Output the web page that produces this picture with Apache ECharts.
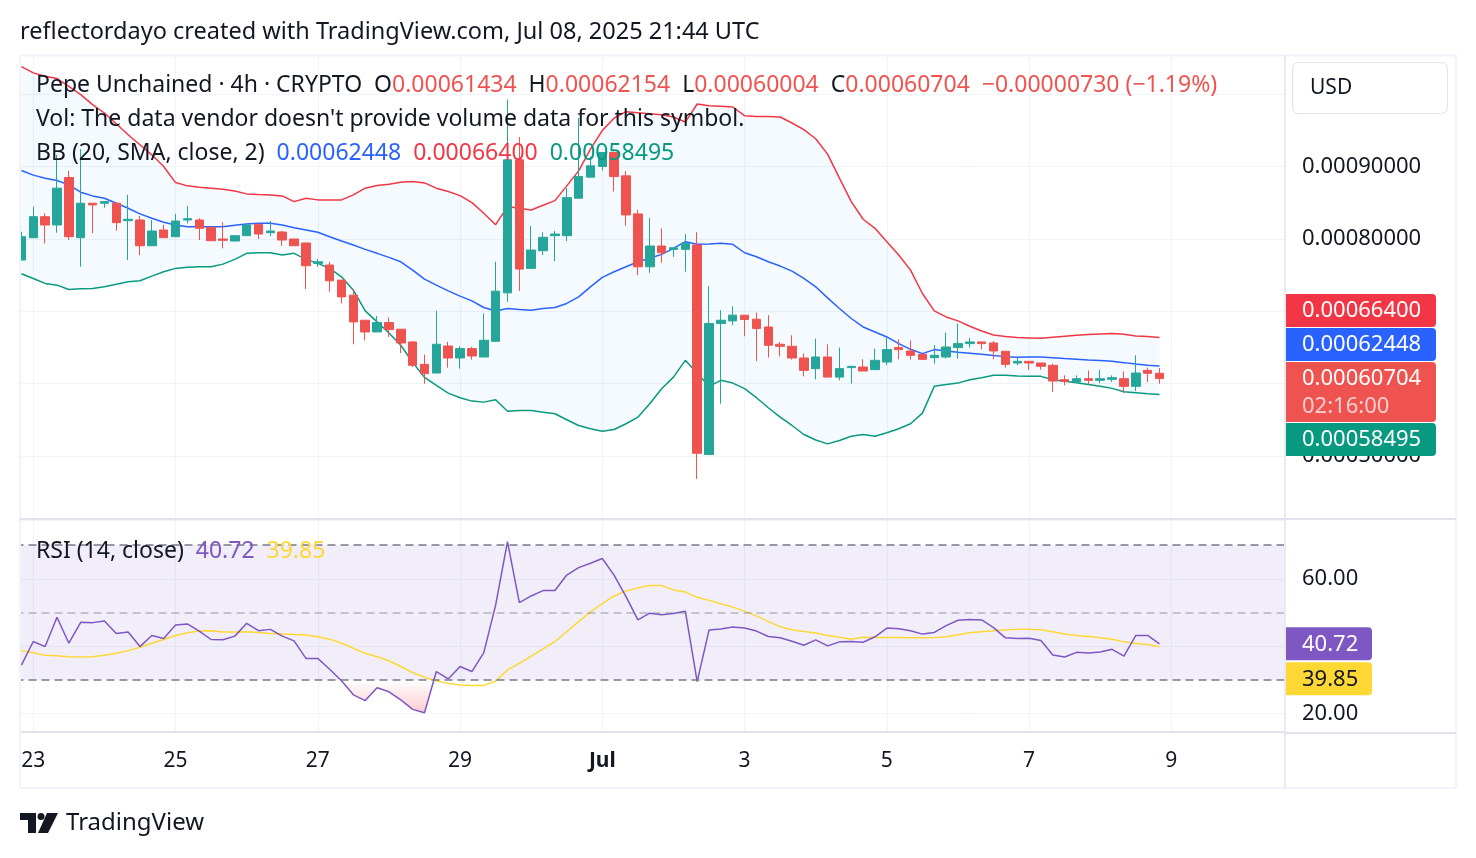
<!DOCTYPE html>
<html>
<head>
<meta charset="utf-8">
<script src="https://cdn.jsdelivr.net/npm/echarts@6/dist/echarts.min.js"></script>
<style>
  html, body { margin: 0; padding: 0; background: #fff; }
  #chart { width: 1476px; height: 858px; }
</style>
</head>
<body>
<div id="chart"></div>
<script>
// Pepe Unchained 4h candles, first visible candle opens Jun 22 2025 20:00 UTC
var firstCandle = Date.UTC(2025, 5, 22, 20);
var slotCount = 107;   // candles plus empty space on the right
var countdown = '02:16:00';

var openP = [
  0.0007709, 0.0008018, 0.0008309, 0.0008194, 0.0008850, 0.0008018, 0.0008495, 0.0008495, 0.0008495, 0.0008254,
  0.0008263, 0.0007907, 0.0008125, 0.0008032, 0.0008263, 0.0008263, 0.0008162, 0.0008000, 0.0007972, 0.0008046,
  0.0008204, 0.0008087, 0.0008097, 0.0008000, 0.0007945, 0.0007663, 0.0007640, 0.0007432, 0.0007224, 0.0006877,
  0.0006715, 0.0006845, 0.0006753, 0.0006577, 0.0006267, 0.0006147, 0.0006521, 0.0006355, 0.0006485, 0.0006369,
  0.0006586, 0.0007256, 0.0009095, 0.0007594, 0.0007838, 0.0008046, 0.0008046, 0.0008564, 0.0008855, 0.0009002,
  0.0009196, 0.0008873, 0.0008347, 0.0007616, 0.0007903, 0.0007857, 0.0007857, 0.0007917, 0.0005020, 0.0006832,
  0.0006868, 0.0006947, 0.0006891, 0.0006784, 0.0006545, 0.0006517, 0.0006355, 0.0006208, 0.0006369, 0.0006091,
  0.0006222, 0.0006230, 0.0006194, 0.0006299, 0.0006499, 0.0006452, 0.0006406, 0.0006360, 0.0006369, 0.0006499,
  0.0006554, 0.0006577, 0.0006563, 0.0006448, 0.0006286, 0.0006309, 0.0006286, 0.0006254, 0.0006055, 0.0006022,
  0.0006069, 0.0006046, 0.0006060, 0.0006069, 0.0005963, 0.0006184, 0.00061434
];
var highP = [
  0.0008101, 0.0008448, 0.0008356, 0.0009164, 0.0008942, 0.0009243, 0.0008495, 0.0008517, 0.0008495, 0.0008610,
  0.0008319, 0.0008263, 0.0008194, 0.0008347, 0.0008457, 0.0008287, 0.0008162, 0.0008231, 0.0008046, 0.0008194,
  0.0008204, 0.0008249, 0.0008111, 0.0008000, 0.0007945, 0.0007723, 0.0007685, 0.0007432, 0.0007303, 0.0006877,
  0.0006933, 0.0006915, 0.0006753, 0.0006586, 0.0006402, 0.0007006, 0.0006577, 0.0006517, 0.0006507, 0.0006970,
  0.0007685, 0.0009927, 0.0009410, 0.0008180, 0.0008093, 0.0008111, 0.0008703, 0.0009673, 0.0009141, 0.0009196,
  0.0009210, 0.0008942, 0.0008402, 0.0008295, 0.0008148, 0.0007879, 0.0008069, 0.0008093, 0.0007349, 0.0007016,
  0.0007071, 0.0006947, 0.0006984, 0.0006947, 0.0006577, 0.0006669, 0.0006416, 0.0006624, 0.0006545, 0.0006499,
  0.0006240, 0.0006337, 0.0006485, 0.0006638, 0.0006614, 0.0006600, 0.0006406, 0.0006531, 0.0006707, 0.0006832,
  0.0006632, 0.0006577, 0.0006590, 0.0006448, 0.0006369, 0.0006309, 0.0006286, 0.0006277, 0.0006115, 0.0006115,
  0.0006184, 0.0006194, 0.0006115, 0.0006170, 0.0006392, 0.0006222, 0.00062154
];
var lowP = [
  0.0007709, 0.0008018, 0.0007940, 0.0008087, 0.0007986, 0.0007616, 0.0008079, 0.0008434, 0.0008115, 0.0007709,
  0.0007778, 0.0007907, 0.0008018, 0.0008032, 0.0008218, 0.0007986, 0.0007976, 0.0007871, 0.0007972, 0.0008046,
  0.0008000, 0.0008042, 0.0007907, 0.0007907, 0.0007307, 0.0007616, 0.0007270, 0.0007109, 0.0006545, 0.0006600,
  0.0006715, 0.0006646, 0.0006424, 0.0006230, 0.0006000, 0.0006147, 0.0006222, 0.0006208, 0.0006333, 0.0006369,
  0.0006577, 0.0007131, 0.0007283, 0.0007594, 0.0007778, 0.0007695, 0.0007972, 0.0008564, 0.0008855, 0.0008947,
  0.0008656, 0.0008184, 0.0007501, 0.0007533, 0.0007672, 0.0007755, 0.0007547, 0.0004683, 0.0005020, 0.0005723,
  0.0006808, 0.0006656, 0.0006313, 0.0006360, 0.0006378, 0.0006333, 0.0006101, 0.0006060, 0.0006091, 0.0006046,
  0.0006000, 0.0006175, 0.0006194, 0.0006254, 0.0006337, 0.0006333, 0.0006337, 0.0006277, 0.0006347, 0.0006347,
  0.0006499, 0.0006475, 0.0006337, 0.0006222, 0.0006254, 0.0006194, 0.0006194, 0.0005884, 0.0005976, 0.0006022,
  0.0005990, 0.0006008, 0.0006022, 0.0005870, 0.0005897, 0.0006022, 0.00060004
];
var closeP = [
  0.0008032, 0.0008309, 0.0008194, 0.0008703, 0.0008032, 0.0008495, 0.0008471, 0.0008517, 0.0008226, 0.0008273,
  0.0007907, 0.0008111, 0.0008018, 0.0008249, 0.0008281, 0.0008148, 0.0007976, 0.0007982, 0.0008046, 0.0008194,
  0.0008069, 0.0008111, 0.0007986, 0.0007907, 0.0007630, 0.0007685, 0.0007422, 0.0007200, 0.0006854, 0.0006715,
  0.0006845, 0.0006748, 0.0006563, 0.0006254, 0.0006139, 0.0006545, 0.0006355, 0.0006485, 0.0006383, 0.0006600,
  0.0007279, 0.0009095, 0.0007584, 0.0007848, 0.0008024, 0.0008069, 0.0008572, 0.0008863, 0.0009012, 0.0009196,
  0.0008863, 0.0008333, 0.0007616, 0.0007903, 0.0007810, 0.0007879, 0.0007940, 0.0005038, 0.0006832, 0.0006877,
  0.0006947, 0.0006887, 0.0006762, 0.0006531, 0.0006517, 0.0006355, 0.0006184, 0.0006369, 0.0006091, 0.0006208,
  0.0006240, 0.0006175, 0.0006323, 0.0006471, 0.0006471, 0.0006392, 0.0006337, 0.0006392, 0.0006507, 0.0006554,
  0.0006577, 0.0006554, 0.0006452, 0.0006267, 0.0006309, 0.0006286, 0.0006240, 0.0006036, 0.0006032, 0.0006069,
  0.0006046, 0.0006069, 0.0006083, 0.0005963, 0.0006147, 0.00061434, 0.00060704
];

// Bollinger bands (20, SMA, close, 2) as drawn
var bbUpper = [
  0.0010384, 0.0010297, 0.0010249, 0.0010218, 0.0010111, 0.0009996, 0.0009857, 0.0009742, 0.0009594, 0.0009441,
  0.0009303, 0.0009164, 0.0009002, 0.0008780, 0.0008735, 0.0008717, 0.0008703, 0.0008689, 0.0008665, 0.0008624,
  0.0008614, 0.0008610, 0.0008596, 0.0008517, 0.0008564, 0.0008541, 0.0008541, 0.0008541, 0.0008610, 0.0008703,
  0.0008739, 0.0008758, 0.0008786, 0.0008794, 0.0008776, 0.0008703, 0.0008656, 0.0008600, 0.0008503, 0.0008356,
  0.0008198, 0.0008448, 0.0008426, 0.0008402, 0.0008467, 0.0008531, 0.0008735, 0.0008942, 0.0009243, 0.0009501,
  0.0009673, 0.0009760, 0.0009746, 0.0009733, 0.0009719, 0.0009687, 0.0009617, 0.0009867, 0.0009843, 0.0009834,
  0.0009825, 0.0009705, 0.0009695, 0.0009695, 0.0009687, 0.0009604, 0.0009511, 0.0009386, 0.0009174, 0.0008841,
  0.0008517, 0.0008273, 0.0008148, 0.0007963, 0.0007778, 0.0007570, 0.0007247, 0.0007006, 0.0006923, 0.0006868,
  0.0006794, 0.0006729, 0.0006674, 0.0006651, 0.0006638, 0.0006633, 0.0006628, 0.0006642, 0.0006656, 0.0006669,
  0.0006679, 0.0006687, 0.0006693, 0.0006683, 0.0006660, 0.0006651, 0.00066400
];
var bbBasis = [
  0.0008947, 0.0008883, 0.0008841, 0.0008808, 0.0008748, 0.0008647, 0.0008596, 0.0008564, 0.0008495, 0.0008426,
  0.0008347, 0.0008287, 0.0008231, 0.0008194, 0.0008170, 0.0008170, 0.0008170, 0.0008170, 0.0008190, 0.0008208,
  0.0008218, 0.0008218, 0.0008194, 0.0008157, 0.0008125, 0.0008093, 0.0008032, 0.0007972, 0.0007917, 0.0007857,
  0.0007802, 0.0007746, 0.0007685, 0.0007570, 0.0007446, 0.0007362, 0.0007283, 0.0007210, 0.0007145, 0.0007053,
  0.0007006, 0.0007040, 0.0007026, 0.0007016, 0.0007040, 0.0007053, 0.0007109, 0.0007200, 0.0007339, 0.0007469,
  0.0007547, 0.0007616, 0.0007685, 0.0007733, 0.0007788, 0.0007871, 0.0007963, 0.0007927, 0.0007931, 0.0007940,
  0.0007927, 0.0007810, 0.0007755, 0.0007685, 0.0007626, 0.0007556, 0.0007455, 0.0007339, 0.0007186, 0.0007040,
  0.0006901, 0.0006784, 0.0006715, 0.0006646, 0.0006554, 0.0006475, 0.0006416, 0.0006471, 0.0006452, 0.0006434,
  0.0006420, 0.0006406, 0.0006388, 0.0006374, 0.0006365, 0.0006369, 0.0006369, 0.0006360, 0.0006347, 0.0006337,
  0.0006327, 0.0006319, 0.0006309, 0.0006291, 0.0006272, 0.0006254, 0.00062448
];
var bbLower = [
  0.0007519, 0.0007455, 0.0007386, 0.0007362, 0.0007303, 0.0007311, 0.0007317, 0.0007339, 0.0007376, 0.0007408,
  0.0007422, 0.0007487, 0.0007547, 0.0007594, 0.0007608, 0.0007616, 0.0007616, 0.0007653, 0.0007719, 0.0007802,
  0.0007810, 0.0007810, 0.0007778, 0.0007802, 0.0007719, 0.0007663, 0.0007594, 0.0007477, 0.0007293, 0.0007006,
  0.0006854, 0.0006701, 0.0006531, 0.0006295, 0.0006087, 0.0005976, 0.0005870, 0.0005806, 0.0005759, 0.0005745,
  0.0005778, 0.0005620, 0.0005630, 0.0005630, 0.0005606, 0.0005584, 0.0005501, 0.0005422, 0.0005376, 0.0005343,
  0.0005367, 0.0005446, 0.0005537, 0.0005723, 0.0005931, 0.0006091, 0.0006323, 0.0006143, 0.0005963, 0.0006046,
  0.0006008, 0.0005931, 0.0005806, 0.0005667, 0.0005537, 0.0005422, 0.0005297, 0.0005221, 0.0005168, 0.0005214,
  0.0005274, 0.0005297, 0.0005274, 0.0005321, 0.0005376, 0.0005446, 0.0005593, 0.0005963, 0.0005990, 0.0006008,
  0.0006055, 0.0006083, 0.0006115, 0.0006115, 0.0006105, 0.0006101, 0.0006101, 0.0006055, 0.0006032, 0.0006014,
  0.0005990, 0.0005963, 0.0005935, 0.0005889, 0.0005875, 0.0005861, 0.00058495
];

// RSI (14, close) and its moving average
var rsiVals = [
  34.4, 41.4, 39.9, 48.6, 40.9, 47.1, 47.0, 47.5, 43.8, 44.2,
  39.9, 43.2, 42.3, 46.3, 46.6, 44.5, 42.0, 41.9, 43.0, 46.8,
  44.6, 45.0, 43.0, 41.6, 36.4, 36.4, 33.2, 29.8, 25.6, 23.9,
  27.7, 26.5, 24.1, 21.3, 20.3, 32.5, 30.3, 34.0, 32.5, 38.1,
  52.2, 71.0, 52.9, 54.9, 56.5, 56.5, 61.1, 63.3, 64.6, 66.0,
  61.0, 54.7, 47.8, 49.8, 49.3, 49.7, 50.4, 29.5, 44.8, 45.1,
  45.7, 45.4, 44.5, 42.9, 42.5, 41.5, 40.3, 41.9, 40.1, 41.3,
  41.4, 41.2, 42.8, 45.4, 45.2, 44.6, 43.6, 44.1, 46.1, 47.7,
  47.9, 47.8, 45.5, 42.5, 42.3, 42.4, 41.7, 37.4, 36.8, 38.2,
  38.0, 38.3, 39.1, 37.1, 43.2, 43.2, 40.72
];
var rsiMa = [
  38.7, 38.1, 37.3, 37.2, 36.9, 36.8, 36.9, 37.3, 37.9, 38.7,
  39.7, 40.9, 42.0, 43.2, 44.0, 44.5, 44.6, 44.2, 44.2, 44.3,
  44.1, 43.8, 43.6, 43.5, 43.3, 42.8, 42.1, 40.9, 39.4, 37.9,
  36.9, 35.7, 34.0, 32.2, 30.8, 29.8, 29.0, 28.5, 28.4, 28.4,
  29.7, 33.0, 34.9, 37.1, 39.2, 41.4, 44.3, 47.3, 50.2, 52.6,
  54.9, 56.4, 57.3, 58.0, 58.0, 56.7, 56.1, 54.5, 53.6, 52.6,
  51.6, 50.4, 49.0, 47.3, 45.8, 44.9, 44.4, 43.9, 43.2, 42.7,
  42.1, 42.7, 42.6, 42.6, 42.6, 42.5, 42.5, 42.6, 42.8, 43.4,
  44.0, 44.3, 44.6, 44.9, 45.0, 45.0, 44.9, 44.3, 43.6, 43.2,
  42.9, 42.5, 42.1, 41.3, 40.8, 40.5, 39.85
];

var FONT = 'Noto Sans';
var TEXT = '#131722';
var UP = '#26a69a', DOWN = '#ef5350';
var months = ['Jan', 'Feb', 'Mar', 'Apr', 'May', 'Jun', 'Jul', 'Aug', 'Sep', 'Oct', 'Nov', 'Dec'];

var slots = [];
for (var s = 0; s < slotCount; s++) {
  slots.push(new Date(firstCandle + s * 4 * 3600 * 1000).toISOString().slice(0, 16));
}
// a date label every two days, at 00:00
var isDayTick = function (idx) { return idx % 12 === 1; };

var candles = openP.map(function (o, i) { return [o, closeP[i], lowP[i], highP[i]]; });
var bandWidth = bbUpper.map(function (u, i) { return u - bbLower[i]; });
var last = closeP.length - 1;

var chart = echarts.init(document.getElementById('chart'));

var option = {
  animation: false,
  backgroundColor: '#fff',
  grid: [
    { left: 15.5, right: 192, top: 55, height: 463 },
    { left: 15.5, right: 192, top: 520, height: 212 }
  ],
  xAxis: [
    {
      type: 'category', gridIndex: 0, data: slots, boundaryGap: true,
      axisLine: { show: false }, axisTick: { show: false }, axisLabel: { show: false },
      splitLine: { show: true, interval: isDayTick, alignWithLabel: true, lineStyle: { color: '#f0f3fa', width: 1 } }
    },
    {
      type: 'category', gridIndex: 1, data: slots, boundaryGap: true,
      axisLine: { show: true, lineStyle: { color: '#e0e3eb', width: 2 } },
      axisTick: { show: false },
      splitLine: { show: true, interval: isDayTick, alignWithLabel: true, lineStyle: { color: '#f0f3fa', width: 1 } },
      axisLabel: {
        interval: isDayTick, margin: 19, color: TEXT, fontSize: 21, fontFamily: FONT,
        formatter: function (val) {
          var d = new Date(val + ':00Z');
          var day = d.getUTCDate();
          return day === 1 ? '{m|' + months[d.getUTCMonth()] + '}' : String(day);
        },
        rich: { m: { fontWeight: 'bold', fontSize: 21, fontFamily: FONT, color: TEXT } }
      }
    }
  ],
  yAxis: [
    {
      type: 'value', gridIndex: 0, position: 'right', scale: true,
      min: 0.0004143, max: 0.0010544, splitNumber: 6,
      axisLine: { show: false }, axisTick: { show: false },
      splitLine: { lineStyle: { color: '#f0f3fa', width: 1 } },
      axisLabel: {
        margin: 18, color: TEXT, fontSize: 22, fontFamily: FONT,
        showMinLabel: false, showMaxLabel: false,
        formatter: function (v) { return v.toFixed(8); }
      }
    },
    {
      type: 'value', gridIndex: 1, position: 'right',
      min: 14.59, max: 77.41, splitNumber: 3,
      axisLine: { show: false }, axisTick: { show: false },
      splitLine: { lineStyle: { color: '#f0f3fa', width: 1 } },
      axisLabel: {
        margin: 18, color: TEXT, fontSize: 22, fontFamily: FONT,
        showMinLabel: false, showMaxLabel: false,
        formatter: function (v) { return v.toFixed(2); }
      }
    }
  ],
  visualMap: [{
    show: false, type: 'continuous', seriesIndex: 7, dimension: 1,
    min: 19, max: 30,
    inRange: { color: ['rgba(242,54,69,0.42)', 'rgba(242,54,69,0)'] },
    outOfRange: { color: 'rgba(242,54,69,0)' }
  }],
  series: [
    {
      name: 'bandBase', type: 'line', xAxisIndex: 0, yAxisIndex: 0, stack: 'bb',
      data: bbLower, symbol: 'none', silent: true, lineStyle: { width: 0, opacity: 0 }, z: 1
    },
    {
      name: 'band', type: 'line', xAxisIndex: 0, yAxisIndex: 0, stack: 'bb',
      data: bandWidth, symbol: 'none', silent: true, lineStyle: { width: 0, opacity: 0 },
      areaStyle: { color: 'rgba(33,150,243,0.06)' }, z: 1
    },
    {
      name: 'upper', type: 'line', xAxisIndex: 0, yAxisIndex: 0, data: bbUpper,
      symbol: 'none', lineStyle: { color: '#f23645', width: 1.5 }, z: 2
    },
    {
      name: 'basis', type: 'line', xAxisIndex: 0, yAxisIndex: 0, data: bbBasis,
      symbol: 'none', lineStyle: { color: '#2962ff', width: 1.5 }, z: 2
    },
    {
      name: 'lower', type: 'line', xAxisIndex: 0, yAxisIndex: 0, data: bbLower,
      symbol: 'none', lineStyle: { color: '#089981', width: 1.5 }, z: 2
    },
    {
      name: 'price', type: 'candlestick', xAxisIndex: 0, yAxisIndex: 0, data: candles,
      barWidth: 9,
      itemStyle: { color: UP, color0: DOWN, borderColor: UP, borderColor0: DOWN, borderWidth: 1 },
      z: 3
    },
    {
      name: 'rsiBand', type: 'line', xAxisIndex: 1, yAxisIndex: 1, data: [],
      markArea: {
        silent: true, itemStyle: { color: 'rgba(126,87,194,0.1)' },
        data: [[{ yAxis: 70 }, { yAxis: 30 }]]
      },
      markLine: {
        silent: true, symbol: ['none', 'none'], label: { show: false },
        data: [
          { yAxis: 70, lineStyle: { color: '#787b86', type: [8, 5], width: 1.5 } },
          { yAxis: 50, lineStyle: { color: 'rgba(120,123,134,0.5)', type: [8, 5], width: 1.5 } },
          { yAxis: 30, lineStyle: { color: '#787b86', type: [8, 5], width: 1.5 } }
        ]
      },
      z: 1
    },
    {
      name: 'oversold', type: 'line', xAxisIndex: 1, yAxisIndex: 1, data: rsiVals,
      symbol: 'none', silent: true, lineStyle: { width: 0 },
      areaStyle: { origin: 30 }, z: 2
    },
    {
      name: 'rsiMa', type: 'line', xAxisIndex: 1, yAxisIndex: 1, data: rsiMa,
      symbol: 'none', lineStyle: { color: '#fdd835', width: 1.5 }, z: 3
    },
    {
      name: 'rsi', type: 'line', xAxisIndex: 1, yAxisIndex: 1, data: rsiVals,
      symbol: 'none', lineStyle: { color: '#7e57c2', width: 1.5 }, z: 4
    }
  ]
};
chart.setOption(option);

function f8(v) { return v.toFixed(8); }
function ln(x1, y1, x2, y2, color, w) {
  return { type: 'line', silent: true, z: 60, shape: { x1: x1, y1: y1, x2: x2, y2: y2 }, style: { stroke: color, lineWidth: w } };
}
function txt(x, y, str, size, extra, z) {
  var st = { text: str, x: 0, y: 0, fill: TEXT, fontSize: size, fontFamily: FONT, verticalAlign: 'middle', align: 'left' };
  for (var k in extra) st[k] = extra[k];
  return { type: 'text', silent: true, z: z || 80, x: x, y: y, style: st };
}
function rs(color, size) { return { fill: color, color: color, fontSize: size, fontFamily: FONT }; }
function tag(top, w, h, bg, label, fg, sub) {
  var kids = [
    { type: 'rect', z: 95, shape: { x: 0, y: 0, width: w, height: h, r: [0, 4, 4, 0] }, style: { fill: bg } },
    { type: 'text', z: 96, style: { text: label, x: 16, y: 17, fill: fg, fontSize: 22, fontFamily: FONT, verticalAlign: 'middle' } }
  ];
  if (sub) kids.push({ type: 'text', z: 96, style: { text: sub, x: 16, y: 45, fill: 'rgba(255,255,255,0.72)', fontSize: 22, fontFamily: FONT, verticalAlign: 'middle' } });
  return { type: 'group', x: 1286, y: top, z: 95, silent: true, children: kids };
}

var chg = closeP[last] - closeP[last - 1];
var chgPct = chg / closeP[last - 1] * 100;
var minus = '\u2212';
var chgText = (chg < 0 ? minus : '+') + Math.abs(chg).toFixed(8) + ' (' + (chg < 0 ? minus : '+') + Math.abs(chgPct).toFixed(2) + '%)';
var valColor = closeP[last] < openP[last] ? DOWN : UP;

var yClose = chart.convertToPixel({ yAxisIndex: 0 }, closeP[last]);
var closeTop = yClose - 16.5;
var yRsi = chart.convertToPixel({ yAxisIndex: 1 }, rsiVals[last]);
var rsiTop = yRsi - 16.5;

var graphics = [
  // hide grid overhang left of the frame
  { type: 'rect', silent: true, z: 50, shape: { x: 0, y: 50, width: 19.5, height: 745 }, style: { fill: '#fff' } },
  // frame and separators
  ln(20, 55.5, 1456, 55.5, '#f0f3fa', 2),
  ln(20, 55, 20, 788, '#f0f3fa', 2),
  ln(1456, 55, 1456, 788, '#f0f3fa', 2),
  ln(20, 788, 1456, 788, '#f0f3fa', 2),
  ln(1285, 55, 1285, 788, '#e0e3eb', 1.5),
  ln(20, 519, 1456, 519, '#e0e3eb', 2),
  ln(1284, 733, 1456, 733, '#e0e3eb', 2),
  // USD box
  { type: 'rect', silent: true, z: 85, shape: { x: 1292.5, y: 62.5, width: 155, height: 51, r: 6 }, style: { fill: '#fff', stroke: '#e0e3eb', lineWidth: 1 } },
  txt(1310, 88, 'USD', 21, {}, 86),
  // header
  txt(20, 32.5, 'reflectordayo created with TradingView.com, Jul 08, 2025 21:44 UTC', 23.5),
  // legends
  txt(36, 85,
    '{d|Pepe Unchained \u00b7 4h \u00b7 CRYPTO  O}{v|' + f8(openP[last]) + '}{d|  H}{v|' + f8(highP[last]) +
    '}{d|  L}{v|' + f8(lowP[last]) + '}{d|  C}{v|' + f8(closeP[last]) + '}{v|  ' + chgText + '}', 23,
    { rich: { d: rs(TEXT, 23), v: rs(valColor, 23) } }),
  txt(36, 119, "Vol: The data vendor doesn't provide volume data for this symbol.", 23),
  txt(36, 153,
    '{d|BB (20, SMA, close, 2)  }{b|' + f8(bbBasis[last]) + '}{u|  ' + f8(bbUpper[last]) + '}{l|  ' + f8(bbLower[last]) + '}', 23,
    { rich: { d: rs(TEXT, 23), b: rs('#2962ff', 23), u: rs('#f23645', 23), l: rs('#089981', 23) } }),
  txt(36, 551,
    '{d|RSI (14, close)  }{p|' + rsiVals[last].toFixed(2) + '}{y|  ' + rsiMa[last].toFixed(2) + '}', 23,
    { rich: { d: rs(TEXT, 23), p: rs('#7e57c2', 23), y: rs('#fdd835', 23) } }),
  // price scale tags
  tag(closeTop - 68, 150, 33, '#f23645', f8(bbUpper[last]), '#fff'),
  tag(closeTop - 34, 150, 33, '#2962ff', f8(bbBasis[last]), '#fff'),
  tag(closeTop, 150, 60, valColor, f8(closeP[last]), '#fff', countdown),
  tag(closeTop + 61, 150, 33, '#089981', f8(bbLower[last]), '#fff'),
  tag(rsiTop, 86, 33, '#7e57c2', rsiVals[last].toFixed(2), '#fff'),
  tag(rsiTop + 35, 86, 33, '#fdd835', rsiMa[last].toFixed(2), TEXT),
  // TradingView logo
  { type: 'polygon', silent: true, z: 80, shape: { points: [[20, 813], [36, 813], [36, 833], [28, 833], [28, 820], [20, 820]] }, style: { fill: TEXT } },
  { type: 'circle', silent: true, z: 80, shape: { cx: 41, cy: 816.5, r: 3.5 }, style: { fill: TEXT } },
  { type: 'polygon', silent: true, z: 80, shape: { points: [[47, 813], [58, 813], [48, 833], [38, 833]] }, style: { fill: TEXT } },
  txt(66, 823, 'TradingView', 24)
];
chart.setOption({ graphic: graphics });
</script>
</body>
</html>
